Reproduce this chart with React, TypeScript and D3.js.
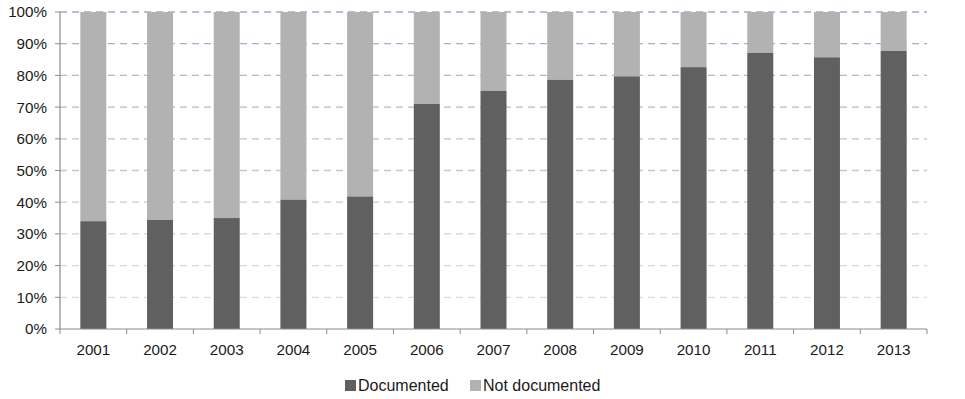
import React from "react";
import * as d3 from "d3";

const years = ["2001","2002","2003","2004","2005","2006","2007","2008","2009","2010","2011","2012","2013"];
const documented = [34.0, 34.4, 35.0, 40.8, 41.8, 71.0, 75.1, 78.6, 79.7, 82.6, 87.1, 85.7, 87.7];
const yTicks = [0, 10, 20, 30, 40, 50, 60, 70, 80, 90, 100];
const seriesNames = ["Documented", "Not documented"];
const seriesColors = ["#606060", "#b2b2b2"];

const W = 965, H = 399;
const left = 60, right = 927, top = 12, bottom = 329;

export default function App() {
  const x = d3.scaleBand<string>().domain(years).range([left, right]).paddingInner(0.61).paddingOuter(0.305);
  const y = d3.scaleLinear().domain([0, 100]).range([bottom, top]);
  const gridColor = d3.scaleLinear<string>().domain([10, 100]).range(["#dcdce0", "#a3abca"]);
  const step = (right - left) / years.length;
  const font = "'Liberation Sans', Arial, sans-serif";

  return (
    <svg width={W} height={H} style={{ position: "absolute", left: 0, top: 0, background: "#fff" }} fontFamily={font}>
      {yTicks.filter((t) => t > 0).map((t) => (
        <line key={"g" + t} x1={left} x2={right} y1={y(t)} y2={y(t)} stroke={gridColor(t)} strokeWidth={1.3} strokeDasharray="7,5" />
      ))}
      {years.map((yr, i) => (
        <g key={yr}>
          <rect x={x(yr)} width={x.bandwidth()} y={y(100)} height={y(documented[i]) - y(100)} fill={seriesColors[1]} />
          <rect x={x(yr)} width={x.bandwidth()} y={y(documented[i])} height={y(0) - y(documented[i])} fill={seriesColors[0]} />
        </g>
      ))}
      <line x1={left} x2={left} y1={top} y2={bottom} stroke="#8c8c8c" strokeWidth={1.2} />
      <line x1={left} x2={right} y1={bottom} y2={bottom} stroke="#8c8c8c" strokeWidth={1.2} />
      {yTicks.map((t) => (
        <g key={"t" + t}>
          <line x1={left - 5} x2={left} y1={y(t)} y2={y(t)} stroke="#8c8c8c" />
          <text x={47} y={y(t)} dy="0.36em" textAnchor="end" fontSize={15.2} fill="#1a1a1a">{t}%</text>
        </g>
      ))}
      {d3.range(years.length + 1).map((i) => (
        <line key={"xt" + i} x1={left + i * step} x2={left + i * step} y1={bottom} y2={bottom + 5} stroke="#8c8c8c" />
      ))}
      {years.map((yr) => (
        <text key={"xl" + yr} x={(x(yr) as number) + x.bandwidth() / 2} y={355} textAnchor="middle" fontSize={15.2} fill="#1a1a1a">{yr}</text>
      ))}
      <g>
        <rect x={345} y={380} width={11} height={11} fill={seriesColors[0]} />
        <text x={358} y={391} fontSize={16} fill="#1a1a1a">{seriesNames[0]}</text>
        <rect x={470} y={380} width={11} height={11} fill={seriesColors[1]} />
        <text x={483} y={391} fontSize={16} fill="#1a1a1a">{seriesNames[1]}</text>
      </g>
    </svg>
  );
}
